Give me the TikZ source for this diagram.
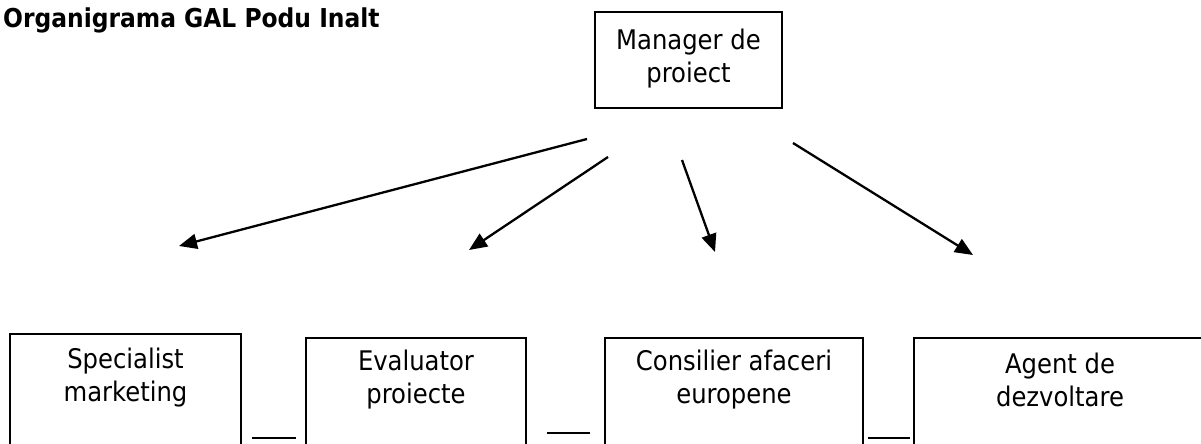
\documentclass[tikz,border=0pt]{standalone}
\usepackage{fontspec}
\setmainfont{DejaVu Sans Condensed}
\usetikzlibrary{arrows.meta}
\begin{document}
\begin{tikzpicture}[x=1pt,y=-1pt,
  box/.style={draw=black,line width=2.3pt},
  lbl/.style={align=center,font=\fontsize{27}{33}\selectfont,inner sep=0pt},
  arr/.style={line width=2.3pt,-{Triangle[length=18pt,width=15pt]}},
  tick/.style={line width=2.3pt}]
\useasboundingbox (0,0) rectangle (1201,444);
\node[anchor=base west,inner sep=0pt,font=\bfseries\fontsize{26}{30}\selectfont] (title) at (3,28) {Organigrama GAL Podu Inalt};
% manager
\draw[box] (595,12) rectangle (782,108);
\node[lbl] (mgr) at (688.5,59) {Manager de\\proiect};
% bottom boxes
\draw[box] (10,470) -- (10,334) -- (241,334) -- (241,470);
\draw[box] (306,470) -- (306,338) -- (526,338) -- (526,470);
\draw[box] (605,470) -- (605,338) -- (863,338) -- (863,470);
\draw[box] (914,470) -- (914,338) -- (1206,338) -- (1206,470);
\node[lbl] (b1) at (125.5,378) {Specialist\\marketing};
\node[lbl] (b2) at (416,380) {Evaluator\\proiecte};
\node[lbl] (b3) at (734,380) {Consilier afaceri\\europene};
\node[lbl] (b4) at (1060,380) {Agent de\\dezvoltare};
% arrows
\coordinate (s1) at (587,139); \coordinate (e1) at (179,246);
\coordinate (s2) at (608,157); \coordinate (e2) at (469,250);
\coordinate (s3) at (682,160); \coordinate (e3) at (715,252);
\coordinate (s4) at (793,143); \coordinate (e4) at (973,255);
\draw[arr] (s1) -- (e1);
\draw[arr] (s2) -- (e2);
\draw[arr] (s3) -- (e3);
\draw[arr] (s4) -- (e4);
% small ticks
\coordinate (t1a) at (252,438); \coordinate (t1b) at (296,438);
\coordinate (t2a) at (547,433); \coordinate (t2b) at (590,433);
\coordinate (t3a) at (868,438); \coordinate (t3b) at (910,438);
\draw[tick] (t1a) -- (t1b);
\draw[tick] (t2a) -- (t2b);
\draw[tick] (t3a) -- (t3b);
\end{tikzpicture}
\end{document}
